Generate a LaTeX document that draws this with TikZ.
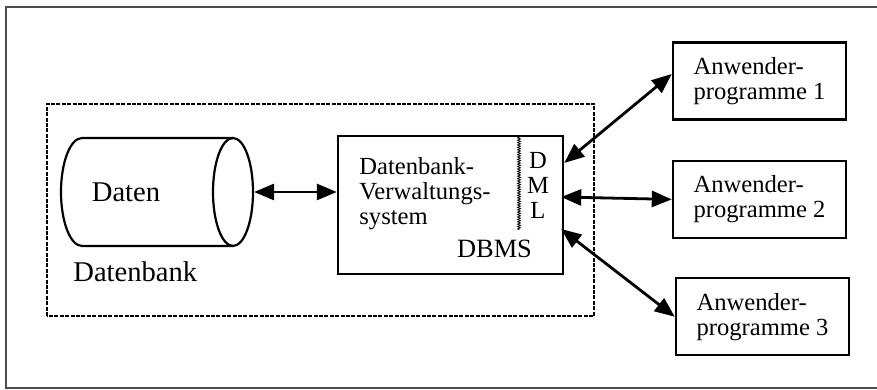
\documentclass[tikz,border=0pt]{standalone}
\usepackage{fontspec}
\setmainfont{Liberation Serif}
\usetikzlibrary{shapes.geometric, arrows.meta, positioning, decorations.pathmorphing}
\tikzset{
    block/.style={rectangle, draw, line width=1.2pt, align=left, inner sep=0pt},
    appbox/.style={block, minimum width=86.5pt, minimum height=38.5pt, font=\fontsize{12.3}{12.5}\selectfont},
    arrow/.style={line width=1.4pt, {Triangle[length=10pt,width=8pt]}-{Triangle[length=10pt,width=8pt]}},
    bigtext/.style={inner sep=0pt, font=\fontsize{14.3}{16}\selectfont},
    dbtext/.style={inner sep=0pt, align=left, font=\fontsize{12.3}{12.5}\selectfont}
}
\begin{document}
\begin{tikzpicture}[x=0.5pt, y=0.5pt]
    \useasboundingbox (0,0) rectangle (877,390);
    % frame
    \draw[black!70, line width=0.6pt] (6,2) rectangle (880,383);

    % Datenbank
    \draw[line width=1.1pt, dash pattern=on 2pt off 0.7pt] (47,74) rectangle (594,286);
    \draw[line width=1.1pt] (233,252) -- (82,252) arc[start angle=90, end angle=270, x radius=10.5pt, y radius=27pt] -- (233,144);
    \node[ellipse, draw, line width=1.1pt, minimum width=20pt, minimum height=54pt, inner sep=0pt] (daten) at (233,198) {};
    \node[bigtext, anchor=base] (datentext) at (126,188) {Daten};
    \node[bigtext, anchor=base west] (dbname) at (73,108) {Datenbank};

    % DBMS
    \node[block, minimum width=112.5pt, minimum height=69pt] (dbms) at (450.5,185) {};
    \draw[decorate, decoration={zigzag, segment length=1.2pt, amplitude=0.7pt}, line width=0.4pt] (519,254) -- (519,160);
    \node[dbtext, anchor=north west] (dbvw) at (359,233) {Datenbank-\\Verwaltungs-\\system};
    \node[dbtext, align=center, anchor=north] (dml) at (538,238) {D\\M\\L};
    \node[inner sep=0pt, font=\fontsize{13.2}{15}\selectfont, anchor=base] (dbmsname) at (494.5,132) {DBMS};

    % Anwenderprogramme
    \node[appbox] (app1) at (759.5,309) {Anwender-\\programme 1};
    \node[appbox, below=19.5pt of app1] (app2) {Anwender-\\programme 2};
    \node[appbox, below=19pt of app2, xshift=1.5pt] (app3) {Anwender-\\programme 3};

    \draw[arrow] (daten.east) -- (daten.east -| dbms.west);
    \draw[arrow] ([yshift=21pt]dbms.east) -- ([yshift=3.5pt]app1.west);
    \draw[arrow] ([xshift=-1.5pt, yshift=4pt]dbms.east) -- (app2.west);
    \draw[arrow] ([xshift=-1.5pt, yshift=-12pt]dbms.east) -- (app3.west);
\end{tikzpicture}
\end{document}
